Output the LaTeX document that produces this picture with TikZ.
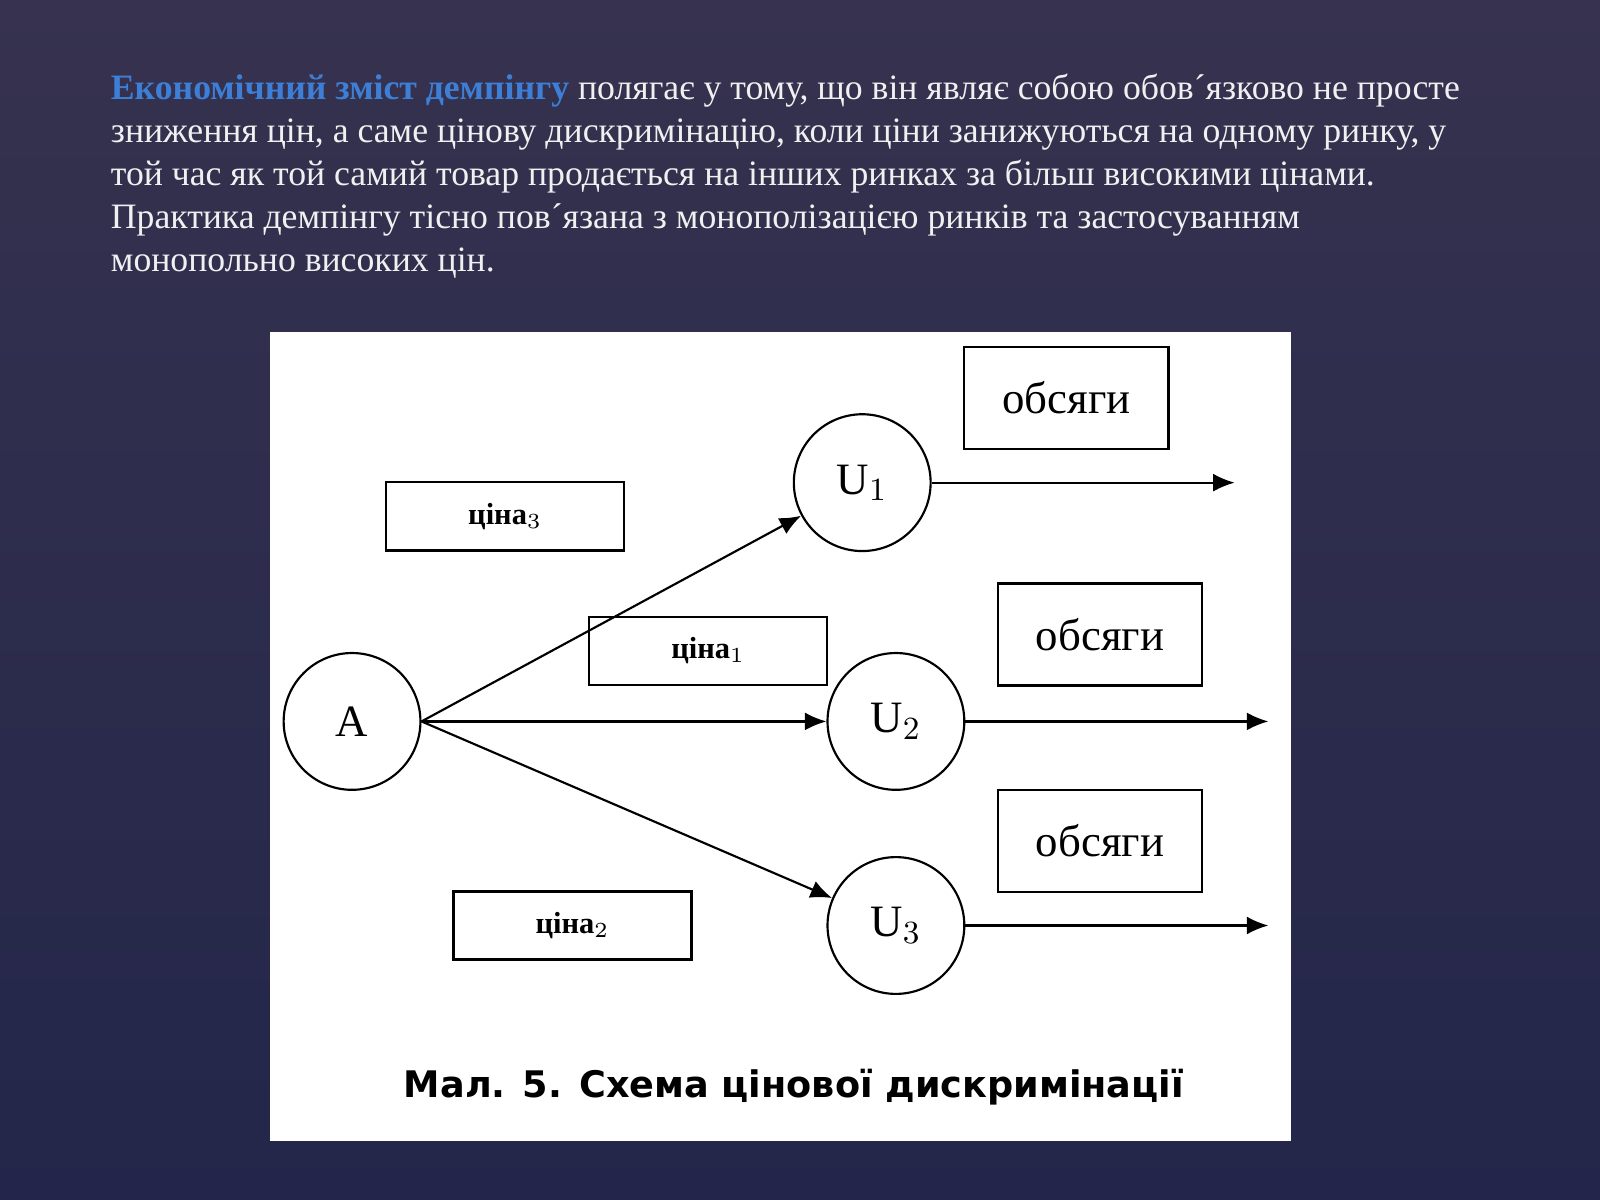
\documentclass[tikz,border=0pt]{standalone}
\usepackage{fontspec}
\usetikzlibrary{arrows.meta}
\setmainfont{Liberation Serif}
\newfontfamily\capfont{DejaVu Sans}
\definecolor{bgtop}{HTML}{36324F}
\definecolor{bgbot}{HTML}{23264A}
\definecolor{hl}{HTML}{3D7FD6}
\begin{document}
\begin{tikzpicture}[x=0.01cm,y=-0.01cm,
  circ/.style={draw,circle,line width=0.6pt,minimum size=134*0.2845pt,inner sep=0pt,font=\fontsize{12.5}{14}\selectfont},
  lbox/.style={draw,line width=0.7pt,inner sep=0pt},
  arr/.style={-{Latex[length=6pt,width=5pt]},line width=0.6pt},
  big/.style={font=\fontsize{12.5}{14}\selectfont},
  small/.style={font=\fontsize{8.5}{10}\selectfont\bfseries}]
\useasboundingbox (0,0) rectangle (1568,1176);
\shade[top color=bgtop,bottom color=bgbot] (0,0) rectangle (1568,1176);
\node[anchor=north west,text=white!88!gray,align=left,inner sep=0pt,
  font=\fontsize{9.95}{11.95}\selectfont] at (108,72) {%
{\color{hl}\bfseries Економічний зміст демпінгу} полягає у тому, що він являє собою обов´язково не просте\\
зниження цін, а саме цінову дискримінацію, коли ціни занижуються на одному ринку, у\\
той час як той самий товар продається на інших ринках за більш високими цінами.\\
Практика демпінгу тісно пов´язана з монополізацією ринків та застосуванням\\
монопольно високих цін.};
\fill[white] (265,325) rectangle (1265,1118);
\node[circ] (A) at (345,707) {A};
\node[circ] (U1) at (845,473) {U$_1$};
\node[circ] (U2) at (878,707) {U$_2$};
\node[circ] (U3) at (878,907) {U$_3$};
\node[lbox,big,minimum width=200*0.2845pt,minimum height=100*0.2845pt] (o1) at (1045,390) {обсяги};
\node[lbox,big,minimum width=200*0.2845pt,minimum height=100*0.2845pt] (o2) at (1078,622) {обсяги};
\node[lbox,big,minimum width=200*0.2845pt,minimum height=100*0.2845pt] (o3) at (1078,824) {обсяги};
\node[lbox,small,minimum width=233*0.2845pt,minimum height=67*0.2845pt] (c3) at (495,506) {ціна$_3$};
\node[lbox,small,minimum width=233*0.2845pt,minimum height=67*0.2845pt] (c1) at (694,638) {ціна$_1$};
\node[lbox,small,minimum width=233*0.2845pt,minimum height=67*0.2845pt] (c2) at (561,907) {ціна$_2$};
\coordinate (e1) at (1210,473);
\coordinate (e2) at (1243,707);
\coordinate (e3) at (1243,907);
\draw[arr] (A.east) -- (U1);
\draw[arr] (A.east) -- (U2);
\draw[arr] (A.east) -- (U3);
\draw[arr] (U1) -- (e1);
\draw[arr] (U2) -- (e2);
\draw[arr] (U3) -- (e3);
\node[font=\capfont\bfseries\fontsize{10.2}{12}\selectfont] (cap) at (778,1065) {Мал. 5. Схема цінової дискримінації};
\end{tikzpicture}
\end{document}
